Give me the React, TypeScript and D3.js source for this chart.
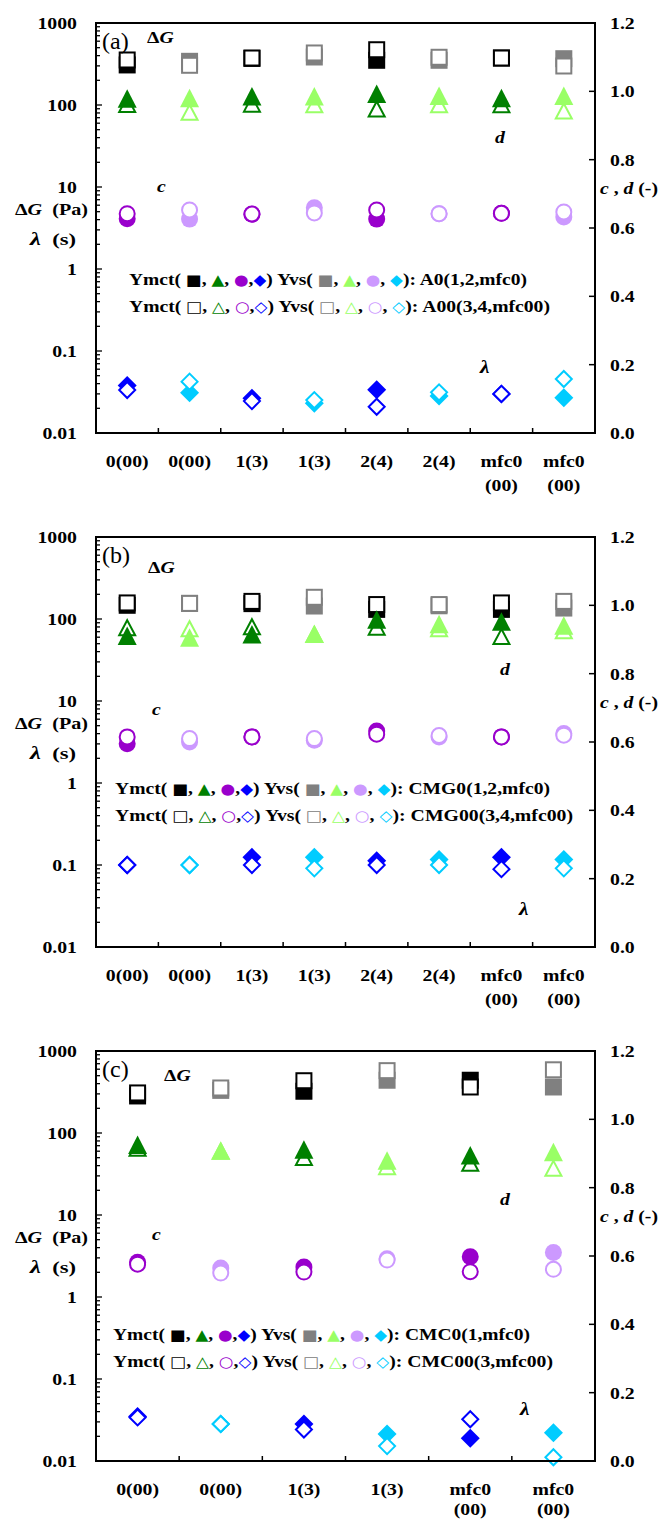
import React from "react";
import * as d3 from "d3";

// ---------- categories ----------
const catsAB: string[][] = [["0(00)"], ["0(00)"], ["1(3)"], ["1(3)"], ["2(4)"], ["2(4)"], ["mfc0", "(00)"], ["mfc0", "(00)"]];
const catsC: string[][] = [["0(00)"], ["0(00)"], ["1(3)"], ["1(3)"], ["mfc0", "(00)"], ["mfc0", "(00)"]];

// ---------- axis ticks ----------
const leftTicks = [0.01, 0.1, 1, 10, 100, 1000];
const leftTickLabels = ["0.01", "0.1", "1", "10", "100", "1000"];
const rightTicks = [0, 0.2, 0.4, 0.6, 0.8, 1.0, 1.2];
const rightTickLabels = ["0.0", "0.2", "0.4", "0.6", "0.8", "1.0", "1.2"];

// ---------- panel (a): A0 (filled) / A00 (open) ----------
const aDG0 = [308, 341, 370, 385, 351, 351, 374, 367];
const aDG00 = [354, 305, 374, 431, 472, 382, 374, 299];
const aD0 = [0.978, 0.98, 0.985, 0.985, 0.992, 0.986, 0.98, 0.986];
const aD00 = [0.963, 0.94, 0.964, 0.962, 0.95, 0.962, 0.962, 0.944];
const aC0 = [0.627, 0.626, 0.64, 0.659, 0.626, 0.642, 0.643, 0.632];
const aC00 = [0.642, 0.653, 0.641, 0.644, 0.653, 0.642, 0.643, 0.647];
const aLam0 = [0.038, 0.031, 0.0265, 0.023, 0.0337, 0.0283, 0.03, 0.027];
const aLam00 = [0.0334, 0.0423, 0.0245, 0.0252, 0.0209, 0.0313, 0.03, 0.0456];

// ---------- panel (b): CMG0 (filled) / CMG00 (open) ----------
const bDG0 = [147, 155, 154, 144, 131, 145, 131, 136];
const bDG00 = [157, 155, 164, 184, 150, 150, 157, 164];
const bD0 = [0.91, 0.905, 0.915, 0.916, 0.958, 0.945, 0.952, 0.94];
const bD00 = [0.936, 0.933, 0.939, 0.916, 0.937, 0.933, 0.91, 0.927];
const bC0 = [0.595, 0.6, 0.615, 0.605, 0.632, 0.615, 0.615, 0.625];
const bC00 = [0.615, 0.61, 0.615, 0.61, 0.623, 0.619, 0.615, 0.62];
const bLam0 = [0.1, 0.1, 0.124, 0.124, 0.113, 0.117, 0.124, 0.117];
const bLam00 = [0.1, 0.1, 0.1, 0.091, 0.1, 0.1, 0.089, 0.091];

// ---------- panel (c): CMC0 (filled) / CMC00 (open) ----------
const cDG0 = [283, 331, 323, 440, 440, 364];
const cDG00 = [308, 354, 434, 576, 364, 590];
const cD0 = [0.925, 0.908, 0.911, 0.879, 0.894, 0.904];
const cD00 = [0.917, 0.908, 0.89, 0.863, 0.873, 0.858];
const cC0 = [0.582, 0.565, 0.568, 0.592, 0.598, 0.61];
const cC00 = [0.576, 0.55, 0.553, 0.588, 0.554, 0.561];
const cLam0 = [0.035, 0.0283, 0.0283, 0.0213, 0.0189, 0.0221];
const cLam00 = [0.034, 0.0283, 0.0242, 0.0152, 0.0323, 0.0111];

// ---------- legend sample names ----------
const legendNamesA = ["A0(1,2,mfc0)", "A00(3,4,mfc00)"];
const legendNamesB = ["CMG0(1,2,mfc0)", "CMG00(3,4,mfc00)"];
const legendNamesC = ["CMC0(1,mfc0)", "CMC00(3,mfc00)"];

// ---------- styling ----------
const SERIF = "'Liberation Serif', 'Times New Roman', serif";
const SYMF = "'DejaVu Sans', sans-serif";
const SX = 1.13; // horizontal stretch of lettering
const PLOT_L = 96;
const PLOT_R = 595;
const PLOT_H = 410;

const ymct = { sq: "#000000", tri: "#008000", cir: "#9900cc", dia: "#0000ff" };
const yvs = { sq: "#808080", tri: "#99ff66", cir: "#cc99ff", dia: "#00ccff" };

type Seg = { t: string; c?: string };

function legendSegs(syms: string[], name: string): Seg[] {
  return [
    { t: "Ymct( " }, { t: syms[0], c: ymct.sq }, { t: ", " }, { t: syms[1], c: ymct.tri }, { t: ", " },
    { t: syms[2], c: ymct.cir }, { t: "," }, { t: syms[3], c: ymct.dia }, { t: ") Yvs( " },
    { t: syms[0], c: yvs.sq }, { t: ", " }, { t: syms[1], c: yvs.tri }, { t: ", " },
    { t: syms[2], c: yvs.cir }, { t: ", " }, { t: syms[3], c: yvs.dia }, { t: "): " + name },
  ];
}

function ST(props: { x: number; y: number; anchor?: string; size?: number; weight?: string; italic?: boolean; children: React.ReactNode }) {
  const { x, y, anchor = "start", size = 17.5, weight = "bold", italic = false, children } = props;
  return (
    <text transform={`translate(${x},${y}) scale(${SX},1)`} textAnchor={anchor as any} fontSize={size}
      fontWeight={weight} fontStyle={italic ? "italic" : "normal"} fontFamily={SERIF} fill="#000"
      style={{ whiteSpace: "pre" }}>
      {children}
    </text>
  );
}

// ---------- markers ----------
function Square({ cx, cy, color, open }: any) {
  return open ? (
    <rect x={cx - 7.5} y={cy - 7.5} width={15} height={15} fill="#fff" stroke={color} strokeWidth={2} />
  ) : (
    <rect x={cx - 8.5} y={cy - 8.5} width={17} height={17} fill={color} />
  );
}
function Triangle({ cx, cy, color, open }: any) {
  if (open) {
    const p = `M${cx},${cy - 7}L${cx + 8},${cy + 8}L${cx - 8},${cy + 8}Z`;
    return <path d={p} fill="#fff" stroke={color} strokeWidth={2} />;
  }
  const p = `M${cx},${cy - 9.5}L${cx + 9.5},${cy + 9}L${cx - 9.5},${cy + 9}Z`;
  return <path d={p} fill={color} />;
}
function Circle({ cx, cy, color, open }: any) {
  return open ? (
    <circle cx={cx} cy={cy} r={7.5} fill="#fff" stroke={color} strokeWidth={2} />
  ) : (
    <circle cx={cx} cy={cy} r={8.5} fill={color} />
  );
}
function Diamond({ cx, cy, color, open }: any) {
  if (open) {
    const h = 8;
    return <path d={`M${cx},${cy - h}L${cx + h},${cy}L${cx},${cy + h}L${cx - h},${cy}Z`} fill="#fff" stroke={color} strokeWidth={2} />;
  }
  const h = 9.5;
  return <path d={`M${cx},${cy - h}L${cx + h},${cy}L${cx},${cy + h}L${cx - h},${cy}Z`} fill={color} />;
}

type PanelProps = {
  top: number;
  cats: string[][];
  dG0: number[]; dG00: number[]; d0: number[]; d00: number[];
  c0: number[]; c00: number[]; lam0: number[]; lam00: number[];
  tag: string;
  names: string[];
  lay: { dG: [number, number]; c: [number, number]; d: [number, number]; lam: [number, number]; legX: number; legY: number; legW: [number, number]; catGap: number };
};

function Panel(p: PanelProps) {
  const { top, cats, lay } = p;
  const bottom = top + PLOT_H;
  const x = d3.scaleBand<number>().domain(d3.range(cats.length)).range([PLOT_L, PLOT_R]);
  const cx = (i: number) => (x(i) as number) + x.bandwidth() / 2;
  const yL = d3.scaleLog().domain([0.01, 1000]).range([bottom, top]);
  const yR = d3.scaleLinear().domain([0, 1.2]).range([bottom, top]);
  const colorOf = (i: number) => (i % 2 === 0 ? ymct : yvs);

  const allLogTicks = yL.ticks();
  const isMajor = (v: number) => Math.abs(Math.log10(v) - Math.round(Math.log10(v))) < 1e-9;

  const marks = (vals: number[], scale: (v: number) => number, Shape: any, key: "sq" | "tri" | "cir" | "dia", open: boolean, tag: string) =>
    vals.map((v, i) =>
      v == null ? null : <Shape key={tag + i} cx={cx(i)} cy={scale(v)} color={colorOf(i)[key]} open={open} />
    );

  const leg1 = legendSegs(["■", "▲", "●", "◆"], p.names[0]);
  const leg2 = legendSegs(["□", "△", "○", "◇"], p.names[1]);
  const legLine = (segs: Seg[], y: number, w: number, k: string) => (
    <text key={k} x={lay.legX} y={y} textLength={w} lengthAdjust="spacingAndGlyphs" fontFamily={SERIF}
      fontWeight="bold" fontSize={17.5} fill="#000" style={{ whiteSpace: "pre" }}>
      {segs.map((s, i) =>
        s.c ? (
          <tspan key={i} fill={s.c} fontFamily={SYMF} fontSize={15} fontWeight="normal">{s.t}</tspan>
        ) : (
          <tspan key={i}>{s.t}</tspan>
        )
      )}
    </text>
  );

  return (
    <g>
      {/* ΔG squares: filled, then open */}
      {marks(p.dG0, yL, Square, "sq", false, "sf")}
      {marks(p.dG00, yL, Square, "sq", true, "so")}
      {/* d triangles: open, then filled */}
      {marks(p.d00, yR, Triangle, "tri", true, "to")}
      {marks(p.d0, yR, Triangle, "tri", false, "tf")}
      {/* c circles: filled, then open */}
      {marks(p.c0, yR, Circle, "cir", false, "cf")}
      {marks(p.c00, yR, Circle, "cir", true, "co")}
      {/* λ diamonds: filled, then open */}
      {marks(p.lam0, yL, Diamond, "dia", false, "df")}
      {marks(p.lam00, yL, Diamond, "dia", true, "do")}

      {/* frame */}
      <rect x={PLOT_L} y={top} width={PLOT_R - PLOT_L} height={PLOT_H} fill="none" stroke="#000" strokeWidth={2} />

      {/* left log axis */}
      {allLogTicks.map((v, i) => (
        <line key={"lt" + i} x1={PLOT_L} x2={PLOT_L + (isMajor(v) ? 6 : 4)} y1={yL(v)} y2={yL(v)} stroke="#000" strokeWidth={1.3} />
      ))}
      {leftTicks.map((v, i) => (
        <ST key={"ll" + i} x={77} y={yL(v) + 6} anchor="end">{leftTickLabels[i]}</ST>
      ))}

      {/* right linear axis */}
      {rightTicks.map((v, i) => (
        <g key={"rt" + i}>
          <line x1={PLOT_R - 6} x2={PLOT_R} y1={yR(v)} y2={yR(v)} stroke="#000" strokeWidth={1.5} />
          <ST x={610} y={yR(v) + 6}>{rightTickLabels[i]}</ST>
        </g>
      ))}

      {/* category axis */}
      {d3.range(1, cats.length).map((i) => (
        <line key={"bt" + i} x1={x(i) as number} x2={x(i) as number} y1={bottom} y2={bottom - 5} stroke="#000" strokeWidth={1.5} />
      ))}
      {cats.map((lines, i) =>
        lines.map((s, j) => (
          <ST key={"cl" + i + "_" + j} x={cx(i)} y={bottom + 33.5 + j * lay.catGap} anchor="middle">{s}</ST>
        ))
      )}

      {/* axis titles */}
      <text x={15} y={top + 192} textLength={73} lengthAdjust="spacingAndGlyphs" fontFamily={SERIF} fontWeight="bold" fontSize={17.5} style={{ whiteSpace: "pre" }}>
        <tspan>Δ</tspan><tspan fontStyle="italic">G</tspan><tspan>  (Pa)</tspan>
      </text>
      <text x={30} y={top + 222} textLength={46} lengthAdjust="spacingAndGlyphs" fontFamily={SERIF} fontWeight="bold" fontSize={17.5} style={{ whiteSpace: "pre" }}>
        <tspan fontStyle="italic" fontSize={19}>λ</tspan><tspan>  (s)</tspan>
      </text>
      <text x={600} y={top + 171} textLength={58} lengthAdjust="spacingAndGlyphs" fontFamily={SERIF} fontWeight="bold" fontSize={17} style={{ whiteSpace: "pre" }}>
        <tspan fontStyle="italic">c</tspan><tspan> , </tspan><tspan fontStyle="italic">d</tspan><tspan> (-)</tspan>
      </text>

      {/* panel tag and quantity labels */}
      <text x={102} y={top + 25.5} fontFamily={SERIF} fontSize={24} fill="#000">{p.tag}</text>
      <ST x={lay.dG[0]} y={top + lay.dG[1]}>
        <tspan>Δ</tspan><tspan fontStyle="italic">G</tspan>
      </ST>
      <ST x={lay.c[0]} y={top + lay.c[1]} italic>c</ST>
      <ST x={lay.d[0]} y={top + lay.d[1]} italic>d</ST>
      <ST x={lay.lam[0]} y={top + lay.lam[1]} italic size={19}>λ</ST>

      {/* legend */}
      {legLine(leg1, top + lay.legY, lay.legW[0], "l1")}
      {legLine(leg2, top + lay.legY + 27, lay.legW[1], "l2")}
    </g>
  );
}

export default function App() {
  return (
    <svg width={659} height={1520} style={{ position: "absolute", left: 0, top: 0, background: "#fff" }}>
      <rect width={659} height={1520} fill="#fff" />
      <Panel top={23} cats={catsAB} dG0={aDG0} dG00={aDG00} d0={aD0} d00={aD00} c0={aC0} c00={aC00}
        lam0={aLam0} lam00={aLam00} tag="(a)" names={legendNamesA}
        lay={{ dG: [147, 20], c: [157, 169], d: [495, 120], lam: [480, 350], legX: 129, legY: 262, legW: [398, 421], catGap: 24.5 }} />
      <Panel top={537} cats={catsAB} dG0={bDG0} dG00={bDG00} d0={bD0} d00={bD00} c0={bC0} c00={bC00}
        lam0={bLam0} lam00={bLam00} tag="(b)" names={legendNamesB}
        lay={{ dG: [148, 36], c: [152, 178], d: [500, 138], lam: [519, 378], legX: 115, legY: 257, legW: [435, 458], catGap: 24.5 }} />
      <Panel top={1051} cats={catsC} dG0={cDG0} dG00={cDG00} d0={cD0} d00={cD00} c0={cC0} c00={cC00}
        lam0={cLam0} lam00={cLam00} tag="(c)" names={legendNamesC}
        lay={{ dG: [164, 30], c: [152, 189], d: [500, 154], lam: [520, 364], legX: 113, legY: 289, legW: [417, 440], catGap: 20.5 }} />
    </svg>
  );
}
